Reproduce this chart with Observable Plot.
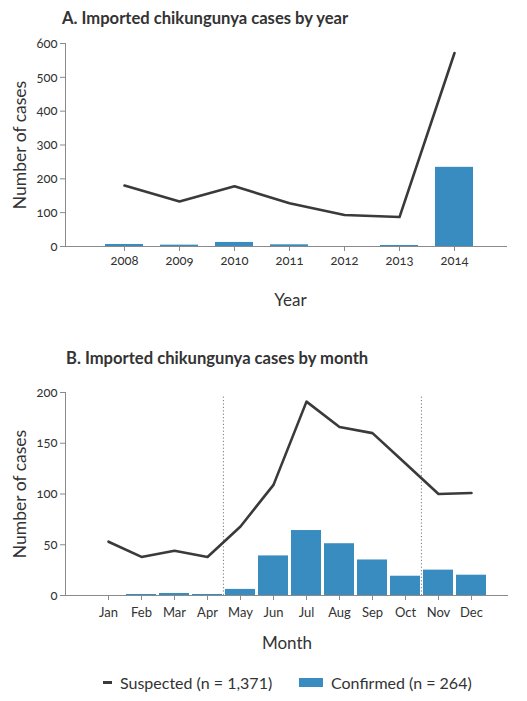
<!DOCTYPE html>
<html>
<head>
<meta charset="utf-8">
<script src="https://cdn.jsdelivr.net/npm/d3@7"></script>
<script src="https://cdn.jsdelivr.net/npm/@observablehq/plot@0.6"></script>
<style>
  html, body { margin: 0; padding: 0; background: #fff; }
  #root { position: relative; width: 527px; height: 701px; font-family: Lato, "Open Sans", sans-serif; color: #333; }
  .title { position: absolute; font-weight: bold; font-size: 16.6px; line-height: 20px; color: #333; white-space: nowrap; }
  .chart { position: absolute; left: 0; }
  #legend { position: absolute; left: 0; top: 671px; width: 527px; height: 22px; font-size: 16px; color: #333; }
  #legend .item { position: absolute; top: 0; display: flex; align-items: center; height: 22px; white-space: nowrap; }
  svg text { font-variant-numeric: oldstyle-nums; }
</style>
</head>
<body>
<div id="root">
  <div class="title" style="left:62px; top:8px;">A. Imported chikungunya cases by year</div>
  <div class="chart" id="chartA" style="top:0px;"></div>
  <div class="title" style="left:66px; top:348px;">B. Imported chikungunya cases by month</div>
  <div class="chart" id="chartB" style="top:330px;"></div>
  <div id="legend">
    <div class="item" style="left:103px;"><span style="display:inline-block;width:9px;height:3px;background:#3a3a3a;margin-right:8px;"></span>Suspected (n = 1,371)</div>
    <div class="item" style="left:299px;"><span style="display:inline-block;width:24px;height:9px;background:#398cc0;margin-right:8px;"></span>Confirmed (n = 264)</div>
  </div>
</div>
<script>
const years = ["2008", "2009", "2010", "2011", "2012", "2013", "2014"];
const suspectedYear = [180, 133, 178, 128, 93, 87, 572];
const confirmedYear = [6, 4, 12, 5, 0, 3, 234];
const yearTicks = [0, 100, 200, 300, 400, 500, 600];

const months = ["Jan", "Feb", "Mar", "Apr", "May", "Jun", "Jul", "Aug", "Sep", "Oct", "Nov", "Dec"];
const suspectedMonth = [53, 38, 44, 38, 68, 109, 191, 166, 160, 130, 100, 101];
const confirmedMonth = [0, 1, 2, 1, 6, 39, 64, 51, 35, 19, 25, 20];
const monthTicks = [0, 50, 100, 150, 200];
const seasonStarts = ["May", "Nov"];

const BLUE = "#398cc0";
const LINE = "#3a3a3a";
const AXIS = "#8a8a8a";

const dataA = years.map((y, i) => ({year: y, suspected: suspectedYear[i], confirmed: confirmedYear[i]}));
const dataB = months.map((m, i) => ({month: m, suspected: suspectedMonth[i], confirmed: confirmedMonth[i]}));

const chartA = Plot.plot({
  width: 527, height: 320,
  marginTop: 43, marginBottom: 74, marginLeft: 65, marginRight: 20,
  style: {fontFamily: "Lato, 'Open Sans', sans-serif", fontSize: "13px", color: "#333", background: "transparent", overflow: "visible"},
  x: {domain: years, range: [86, 492], padding: 0.31},
  y: {domain: [0, 600]},
  marks: [
    Plot.barY(dataA, {x: "year", y: "confirmed", fill: BLUE}),
    Plot.lineY(dataA, {x: "year", y: "suspected", stroke: LINE, strokeWidth: 2.6}),
    Plot.axisY({ticks: yearTicks, tickSize: 5, tickPadding: 3, stroke: AXIS, fill: "#333", label: null, fontSize: 13}),
    Plot.axisX({tickSize: 5, tickPadding: 4, stroke: AXIS, fill: "#333", label: null, fontSize: 13}),
    Plot.frame({anchor: "left", stroke: AXIS}),
    Plot.ruleY([0], {stroke: AXIS}),
    Plot.text(["Number of cases"], {frameAnchor: "left", textAnchor: "middle", rotate: -90, dx: -45, fontSize: 17.5, fill: "#333"}),
    Plot.text(["Year"], {frameAnchor: "bottom", lineAnchor: "middle", dy: 54, dx: 4, fontSize: 17, fill: "#333"})
  ]
});
document.getElementById("chartA").appendChild(chartA);

const chartB = Plot.plot({
  width: 527, height: 325,
  marginTop: 62, marginBottom: 60, marginLeft: 65, marginRight: 19,
  style: {fontFamily: "Lato, 'Open Sans', sans-serif", fontSize: "13px", color: "#333", background: "transparent", overflow: "visible"},
  x: {domain: months, range: [84, 495], padding: 0.1},
  y: {domain: [0, 200]},
  marks: [
    Plot.barY(dataB, {x: "month", y: "confirmed", fill: BLUE}),
    Plot.ruleX(seasonStarts, {x: d => d, dx: -17.1, y1: 0, y2: 197, stroke: "#777", strokeDasharray: "1.2,2.2"}),
    Plot.lineY(dataB, {x: "month", y: "suspected", stroke: LINE, strokeWidth: 2.6}),
    Plot.axisY({ticks: monthTicks, tickSize: 5, tickPadding: 3, stroke: AXIS, fill: "#333", label: null, fontSize: 13}),
    Plot.axisX({tickSize: 5, tickPadding: 7, stroke: AXIS, fill: "#333", label: null, fontSize: 13}),
    Plot.frame({anchor: "left", stroke: AXIS}),
    Plot.ruleY([0], {stroke: AXIS}),
    Plot.text(["Number of cases"], {frameAnchor: "left", textAnchor: "middle", rotate: -90, dx: -45, fontSize: 17.5, fill: "#333"}),
    Plot.text(["Month"], {frameAnchor: "bottom", lineAnchor: "middle", dy: 48, dx: 0, fontSize: 17, fill: "#333"})
  ]
});
document.getElementById("chartB").appendChild(chartB);
</script>
</body>
</html>
